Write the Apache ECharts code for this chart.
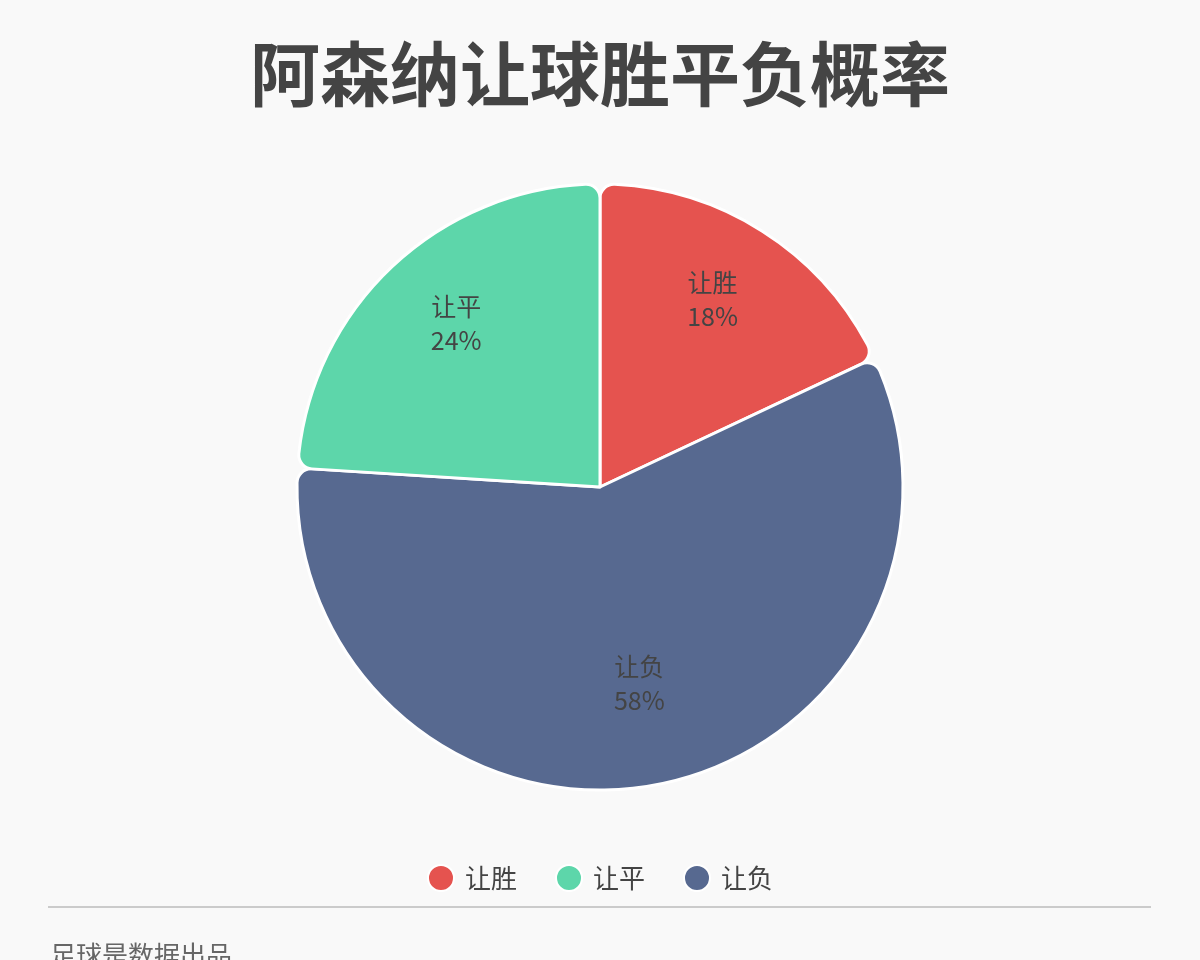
<!DOCTYPE html>
<html>
<head>
<meta charset="utf-8">
<script src="https://cdn.jsdelivr.net/npm/echarts@6/dist/echarts.min.js"></script>
<style>
  html, body { margin: 0; padding: 0; background: #f9f9f9; }
  #chart { width: 1200px; height: 960px; }
</style>
</head>
<body>
<div id="chart"></div>
<script>
// ---- DATA ----
const categories = ['让胜', '让负', '让平'];
const values = [18, 58, 24];
const colors = ['#e5534f', '#576990', '#5dd6aa'];
const legendOrder = ['让胜', '让平', '让负'];

const pieData = categories.map((name, i) => ({
  name,
  value: values[i],
  itemStyle: { color: colors[i] }
}));

// ---- CHART ----
const chart = echarts.init(document.getElementById('chart'), null, { renderer: 'canvas' });
chart.setOption({
  backgroundColor: '#f9f9f9',
  animation: false,
  title: {
    text: '阿森纳让球胜平负概率',
    left: 'center',
    top: 34,
    textStyle: {
      fontFamily: 'Noto Sans CJK SC',
      fontSize: 70,
      fontWeight: 'bold',
      color: '#444'
    }
  },
  legend: {
    data: legendOrder,
    bottom: 63,
    left: 'center',
    icon: 'circle',
    itemWidth: 26,
    itemHeight: 26,
    itemGap: 38,
    textStyle: {
      fontFamily: 'Noto Sans CJK SC',
      fontSize: 26,
      color: '#444',
      padding: [0, 0, 0, 6]
    }
  },
  series: [
    {
      type: 'pie',
      center: [600, 487],
      radius: [0, 303],
      startAngle: 90,
      clockwise: true,
      label: { show: false },
      labelLine: { show: false },
      itemStyle: { borderColor: '#fff', borderWidth: 3, borderRadius: 14 },
      emphasis: { disabled: true },
      data: pieData
    },
    {
      // label-only ring, puts text at about 70% of the radius
      type: 'pie',
      center: [600, 487],
      radius: [111, 303],
      startAngle: 90,
      clockwise: true,
      silent: true,
      itemStyle: { color: 'transparent' },
      label: {
        show: true,
        position: 'inside',
        formatter: '{b}\n{d}%',
        fontFamily: 'Noto Sans CJK SC',
        fontSize: 25,
        lineHeight: 34,
        color: '#444',
        offset: [0, -10]
      },
      labelLine: { show: false },
      emphasis: { disabled: true },
      data: categories.map((name, i) => ({ name, value: values[i] }))
    }
  ],
  graphic: [
    {
      type: 'line',
      shape: { x1: 48, y1: 907, x2: 1151, y2: 907 },
      style: { stroke: '#bbb', lineWidth: 1.5 }
    },
    {
      type: 'text',
      left: 50,
      top: 942,
      style: {
        text: '足球是数据出品',
        font: '26px "Noto Sans CJK SC"',
        fill: '#666'
      }
    }
  ]
});
</script>
</body>
</html>
